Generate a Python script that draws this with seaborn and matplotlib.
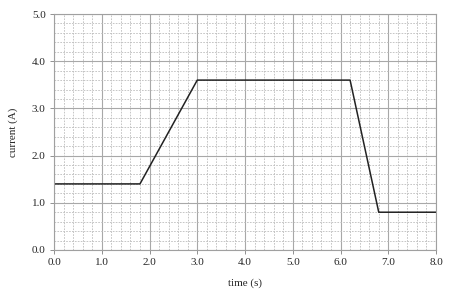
import matplotlib
matplotlib.use("Agg")
import matplotlib.pyplot as plt
import seaborn as sns
import pandas as pd
import numpy as np
from matplotlib.ticker import MultipleLocator, FormatStrFormatter

time_s = [0.0, 1.8, 3.0, 6.2, 6.8, 8.0]
current_a = [1.4, 1.4, 3.6, 3.6, 0.8, 0.8]

sns.set_style("white")
plt.rcParams['font.family'] = ['Liberation Serif', 'DejaVu Serif']

df = pd.DataFrame({"time": time_s, "current": current_a})

fig = plt.figure(figsize=(4.5, 2.99), dpi=100)
ax = fig.add_axes([0.12, 0.164, 0.849, 0.789])

ax.set_xlim(0, 8)
ax.set_ylim(0, 5)
ax.xaxis.set_major_locator(MultipleLocator(1.0))
ax.yaxis.set_major_locator(MultipleLocator(1.0))
ax.xaxis.set_minor_locator(MultipleLocator(0.2))
ax.yaxis.set_minor_locator(MultipleLocator(0.2))
ax.xaxis.set_major_formatter(FormatStrFormatter('%.1f'))
ax.yaxis.set_major_formatter(FormatStrFormatter('%.1f'))
ax.grid(which='minor', color='#bdbdbd', linestyle=(0, (2, 1.5)), linewidth=0.6)
ax.grid(which='major', color='#a8a8a8', linestyle='-', linewidth=0.8)
ax.set_axisbelow(True)

sns.lineplot(data=df, x="time", y="current", ax=ax, color='#222222', linewidth=1.1, sort=False)

for s in ax.spines.values():
    s.set_color('#a0a0a0')
    s.set_linewidth(0.8)

ax.tick_params(which='major', direction='out', length=3, width=0.6, color='#808080',
               labelsize=8, pad=3, left=True, bottom=True)
ax.tick_params(which='minor', length=0)
ax.set_xlabel("time (s)", fontsize=8, labelpad=8)
ax.set_ylabel("current (A)", fontsize=8, labelpad=10)

fig.savefig("out.png", dpi=100)
